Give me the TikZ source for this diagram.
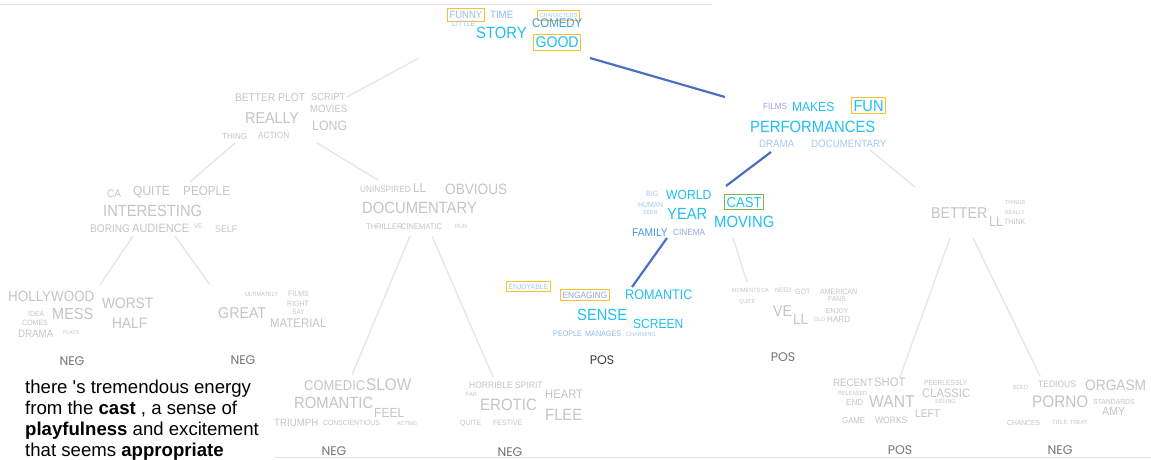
\documentclass[tikz,border=0pt]{standalone}
\usepackage{graphicx}
\usepackage{fontspec}
\setmainfont{Liberation Sans}
\newfontfamily\labelfont{Poppins}
\usetikzlibrary{positioning}
\definecolor{hotcyan}   {HTML}{1FBFF2}
\definecolor{midblue}   {HTML}{3A9BE4}
\definecolor{skyblue}   {HTML}{8EB8EA}
\definecolor{paleblue}  {HTML}{A6C8EE}
\definecolor{lavender}  {HTML}{9AA2D8}
\definecolor{fadeblue}  {HTML}{A4BCE0}
\definecolor{wordgrey}  {HTML}{C4C4C4}
\definecolor{labelgrey} {HTML}{737373}
\definecolor{labeldark} {HTML}{3C3C3C}
\definecolor{pathblue}  {HTML}{4A70C4}
\definecolor{edgegrey}  {HTML}{E6E6E6}
\definecolor{framegrey} {HTML}{E2E2E2}
\definecolor{markorange}{HTML}{F7C22E}
\definecolor{markgreen} {HTML}{7DB552}
% cloud words: a bit taller than Arial, same width
\newcommand{\sq}[1]{\scalebox{0.91}[1]{#1}}
\tikzset{
  word/.style={anchor=base west, inner sep=0pt, text=#1},
  sz/.code={\pgfmathsetmacro\wsz{1.1*#1}%
    \tikzset{font=\fontsize{\wsz}{\wsz}\selectfont}},
  markbox/.style={draw=#1, line width=1.1pt, inner xsep=2pt, inner ysep=2.5pt},
  leaflabel/.style={anchor=base, inner sep=0pt,
    font=\labelfont\fontsize{12.5}{12.5}\selectfont, text=#1},
  pathedge/.style={line width=2.2pt, color=pathblue},
  fadeedge/.style={line width=1.4pt, color=edgegrey},
  frameline/.style={line width=0.8pt, color=framegrey}
}

\begin{document}
\begin{tikzpicture}[x=1pt, y=-1pt]
  \useasboundingbox (0,0) rectangle (1151,460);
  \draw[frameline] (0,4.5) -- (712,4.5);
  \draw[frameline] (275,457.5) -- (1151,457.5);

  % root cloud
  \node[word=fadeblue, sz=9.5, markbox=markorange] (root-FUNNY) at (447,18.5) {\sq{FUNNY}};
  \node[word=paleblue, sz=5.5, markbox=markorange] (root-CHARACTERS) at (537,17.5) {\sq{CHARACTERS}};
  \node[word=hotcyan, sz=14.1, markbox=markorange] (root-GOOD) at (533,47.5) {\sq{GOOD}};
  \foreach \x/\y/\s/\c/\w in {490/19/9.6/skyblue/TIME, 532/28/11.4/midblue/COMEDY,
                              452/27/7/paleblue/LITTLE, 476/39/14.8/hotcyan/STORY}{
    \node[word=\c, sz=\s] (root-\w) at (\x,\y) {\sq{\w}};
  }

  % performances cloud
  \node[word=hotcyan, sz=14.6, markbox=markorange] (perf-FUN) at (851,111) {\sq{FUN}};
  \foreach \x/\y/\s/\c/\w in {763/109/8.1/lavender/FILMS, 792/111/12/hotcyan/MAKES,
                              750/132/14.8/hotcyan/PERFORMANCES, 759/147/9.7/paleblue/DRAMA,
                              811/147/9.7/paleblue/DOCUMENTARY}{
    \node[word=\c, sz=\s] (perf-\w) at (\x,\y) {\sq{\w}};
  }

  % world cloud
  \node[word=hotcyan, sz=13.1, markbox=markgreen] (world-CAST) at (724,207) {\sq{CAST}};
  \foreach \x/\y/\s/\c/\w in {646/196/7/paleblue/BIG, 666/199/12.1/hotcyan/WORLD,
                              638/207/6.8/paleblue/HUMAN, 643/214/5.2/paleblue/SEEN,
                              667/219/14.7/hotcyan/YEAR, 714/227/14.8/hotcyan/MOVING,
                              632/236/10.2/midblue/FAMILY, 673/235/8.2/lavender/CINEMA}{
    \node[word=\c, sz=\s] (world-\w) at (\x,\y) {\sq{\w}};
  }

  % sense leaf
  \node[word=paleblue, sz=6.8, markbox=markorange] (sense-ENJOYABLE) at (506,289) {\sq{ENJOYABLE}};
  \node[word=lavender, sz=8.3, markbox=markorange] (sense-ENGAGING) at (560,298) {\sq{ENGAGING}};
  \foreach \x/\y/\s/\c/\w in {625/299/12.6/hotcyan/ROMANTIC, 577/320/14.7/hotcyan/SENSE,
                              633/328/12/hotcyan/SCREEN, 553/336/7.2/skyblue/PEOPLE,
                              585/336/7.2/skyblue/MANAGES, 626/336/5.4/paleblue/CHARMING}{
    \node[word=\c, sz=\s] (sense-\w) at (\x,\y) {\sq{\w}};
  }

  % grey clouds
  \foreach \x/\y/\s/\w in {235/101/10.1/BETTER, 278/101/10.3/PLOT, 311/100/9.3/SCRIPT,
                           310/112/9.5/MOVIES, 245/123/14.3/REALLY, 312/130/12.3/LONG,
                           222/139/8/THING, 258/138/8.2/ACTION}{
    \node[word=wordgrey, sz=\s] (really-\w) at (\x,\y) {\sq{\w}};
  }
  \foreach \x/\y/\s/\w in {107/197/10/CA, 133/195/12/QUITE, 183/195/11.7/PEOPLE,
                           103/216/14.7/INTERESTING, 90/232/10.1/BORING,
                           132/232/11/AUDIENCE, 194/228/6/VE, 215/232/8.8/SELF}{
    \node[word=wordgrey, sz=\s] (inter-\w) at (\x,\y) {\sq{\w}};
  }
  \foreach \x/\y/\s/\w in {360/192/8.2/UNINSPIRED, 413/192/11.7/LL, 445/194/13.6/OBVIOUS,
                           362/213/14.8/DOCUMENTARY, 366/229/7.5/THRILLER,
                           401/229/7.5/CINEMATIC, 455/228/5.5/RUN}{
    \node[word=wordgrey, sz=\s] (docu-\w) at (\x,\y) {\sq{\w}};
  }
  \foreach \x/\y/\s/\w in {1005/204/5.3/THINGS, 931/218/14.2/BETTER, 1005/214/5.2/REALLY,
                           989/226/12.6/LL, 1004/224/7/THINK}{
    \node[word=wordgrey, sz=\s] (better-\w) at (\x,\y) {\sq{\w}};
  }

  % grey leaves
  \foreach \x/\y/\s/\w in {8/301/13.4/HOLLYWOOD, 102/308/13.7/WORST, 28/316/6.8/IDEA,
                           52/319/14.5/MESS, 112/328/13.7/HALF, 22/325/7/COMES,
                           18/337/9.7/DRAMA, 63/334/5/PLAYS}{
    \node[word=wordgrey, sz=\s] (holly-\w) at (\x,\y) {\sq{\w}};
  }
  \foreach \x/\y/\s/\w in {245/296/5.5/ULTIMATELY, 288/296/7/FILMS, 287/306/7/RIGHT,
                           218/318/14.2/GREAT, 292/314/6.5/SAY, 270/327/11.4/MATERIAL}{
    \node[word=wordgrey, sz=\s] (great-\w) at (\x,\y) {\sq{\w}};
  }
  \foreach \x/\y/\s/\w in {732/292/5.5/MOMENTS, 761/292/5.5/CA, 775/292/5.8/NEED,
                           795/294/7/GOT, 820/294/7/AMERICAN, 828/301/6.7/FANS,
                           739/303/5.2/QUITE, 773/316/14.2/VE, 793/324/13.5/LL,
                           826/313/6.6/ENJOY, 814/321/5.4/OLD, 827/322/8.1/HARD}{
    \node[word=wordgrey, sz=\s] (vell-\w) at (\x,\y) {\sq{\w}};
  }
  \foreach \x/\y/\s/\w in {304/390/12.9/COMEDIC, 366/390/15.3/SLOW, 294/408/14.8/ROMANTIC,
                           374/417/12/FEEL, 274/426/9.7/TRIUMPH,
                           323/425/6.8/CONSCIENTIOUS, 397/425/5.3/ACTING}{
    \node[word=wordgrey, sz=\s] (comedic-\w) at (\x,\y) {\sq{\w}};
  }
  \foreach \x/\y/\s/\w in {469/388/8.5/HORRIBLE, 515/388/8.5/SPIRIT, 466/396/5.5/FAR,
                           545/398/11.2/HEART, 480/410/15/EROTIC, 545/420/14.8/FLEE,
                           460/425/6.9/QUITE, 493/425/7/FESTIVE}{
    \node[word=wordgrey, sz=\s] (erotic-\w) at (\x,\y) {\sq{\w}};
  }
  \foreach \x/\y/\s/\w in {833/386/9.7/RECENT, 874/386/11.2/SHOT, 924/385/6.7/PEERLESSLY,
                           838/395/5.4/RELEASED, 922/397/11.2/CLASSIC, 846/405/8/END,
                           869/407/15.6/WANT, 935/403/5.4/SEEING, 915/417/10.2/LEFT,
                           842/423/7.8/GAME, 875/423/8.5/WORKS}{
    \node[word=wordgrey, sz=\s] (shot-\w) at (\x,\y) {\sq{\w}};
  }
  \foreach \x/\y/\s/\w in {1013/389/5.5/BOLD, 1038/387/8.5/TEDIOUS, 1085/390/13.7/ORGASM,
                           1032/407/15.3/PORNO, 1093/404/6.8/STANDARDS, 1102/415/10.6/AMY,
                           1007/425/6.7/CHANCES, 1052/424/5.5/TITLE, 1070/424/5.2/TREAT}{
    \node[word=wordgrey, sz=\s] (orgasm-\w) at (\x,\y) {\sq{\w}};
  }

  % leaf labels
  \node[leaflabel=labelgrey] (holly-lab)   at (72,365)   {NEG};
  \node[leaflabel=labelgrey] (great-lab)   at (243,364)  {NEG};
  \node[leaflabel=labeldark] (sense-lab)   at (602,364)  {POS};
  \node[leaflabel=labelgrey] (vell-lab)    at (783,361)  {POS};
  \node[leaflabel=labelgrey] (comedic-lab) at (334,455)  {NEG};
  \node[leaflabel=labelgrey] (erotic-lab)  at (510,456)  {NEG};
  \node[leaflabel=labelgrey] (shot-lab)    at (900,454)  {POS};
  \node[leaflabel=labelgrey] (orgasm-lab)  at (1060,454) {NEG};

  % connector ends
  \coordinate (root-lo)     at (419,58);
  \coordinate (root-ro)     at (590,58);
  \coordinate (really-in)   at (347,97);
  \coordinate (really-lo)   at (235,143);
  \coordinate (really-ro)   at (317,143);
  \coordinate (inter-in)    at (190,182);
  \coordinate (inter-lo)    at (133,236);
  \coordinate (inter-ro)    at (175,236);
  \coordinate (docu-in)     at (378,180);
  \coordinate (docu-lo)     at (410,236);
  \coordinate (docu-ro)     at (432,236);
  \coordinate (holly-in)    at (100,285);
  \coordinate (great-in)    at (210,285);
  \coordinate (comedic-in)  at (352,375);
  \coordinate (erotic-in)   at (493,377);
  \coordinate (perf-in)     at (725,97);
  \coordinate (perf-lo)     at (771,152);
  \coordinate (perf-ro)     at (870,150);
  \coordinate (world-in)    at (726,186);
  \coordinate (world-lo)    at (667,238);
  \coordinate (world-ro)    at (733,238);
  \coordinate (sense-in)    at (632,287);
  \coordinate (vell-in)     at (747,282);
  \coordinate (better-in)   at (915,187);
  \coordinate (better-lo)   at (950,238);
  \coordinate (better-ro)   at (973,238);
  \coordinate (shot-in)     at (900,377);
  \coordinate (orgasm-in)   at (1040,376);

  \foreach \a/\b in {root-lo/really-in, really-lo/inter-in, really-ro/docu-in,
                     inter-lo/holly-in, inter-ro/great-in, docu-lo/comedic-in,
                     docu-ro/erotic-in, perf-ro/better-in, world-ro/vell-in,
                     better-lo/shot-in, better-ro/orgasm-in}{
    \draw[fadeedge] (\a) -- (\b);
  }
  \foreach \a/\b in {root-ro/perf-in, perf-lo/world-in, world-lo/sense-in}{
    \draw[pathedge] (\a) -- (\b);
  }

  % sentence
  \node[anchor=north west, inner sep=0pt, align=left,
        font=\fontsize{18.6}{21}\selectfont] (quote) at (25,380)
    {there \textquotesingle s tremendous energy\\
     from the \textbf{cast} , a sense of\\
     \textbf{playfulness} and excitement\\
     that seems \textbf{appropriate}};
\end{tikzpicture}
\end{document}
